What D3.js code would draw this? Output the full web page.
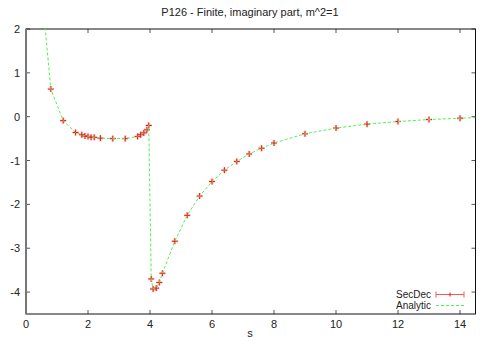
<!DOCTYPE html>
<html>
<head>
<meta charset="utf-8">
<script src="https://cdn.jsdelivr.net/npm/d3@7"></script>
<style>
  body { margin: 0; background: #fff; }
  text { font-family: "Liberation Sans", Arial, sans-serif; fill: #222; }
</style>
</head>
<body>
<svg id="chart" width="493" height="345"></svg>
<script>
// SecDec data points (s, imaginary part)
const secS = [0.8, 1.2, 1.6, 1.8, 1.9, 2.0, 2.1, 2.2, 2.4, 2.8, 3.2, 3.6, 3.7, 3.8, 3.9, 3.96,
  4.04, 4.1, 4.2, 4.3, 4.4, 4.8, 5.2, 5.6, 6.0, 6.4, 6.8, 7.2, 7.6, 8, 9, 10, 11, 12, 13, 14];
const secVal = [0.63, -0.09, -0.36, -0.41, -0.44, -0.45, -0.47, -0.47, -0.49, -0.50, -0.50, -0.45, -0.41, -0.37, -0.30, -0.20,
  -3.70, -3.93, -3.91, -3.78, -3.57, -2.84, -2.25, -1.81, -1.48, -1.22, -1.02, -0.85, -0.72, -0.60, -0.39, -0.26, -0.17, -0.11, -0.065, -0.035];

// Analytic curve
const anaS = [0.5].concat(secS, [14.5]);
const anaVal = [2.94].concat(secVal, [-0.02]);

const xTicks = [0, 2, 4, 6, 8, 10, 12, 14];
const yTicks = [2, 1, 0, -1, -2, -3, -4];

const svg = d3.select('#chart');
const pLeft = 26, pRight = 475.5, pTop = 29, pBottom = 314;

const x = d3.scaleLinear().domain([0, 14.5]).range([pLeft, pRight]);
const y = d3.scaleLinear().domain([-4.5, 2]).range([pBottom, pTop]);

// title and axis label
svg.append('text').attr('x', 250).attr('y', 16).attr('text-anchor', 'middle')
  .attr('font-size', 11).text('P126 - Finite, imaginary part, m^2=1');
svg.append('text').attr('x', 250).attr('y', 337).attr('text-anchor', 'middle')
  .attr('font-size', 11).text('s');

// ticks (inward, all four sides)
const tickColor = '#555';
xTicks.forEach(t => {
  svg.append('line').attr('x1', x(t)).attr('x2', x(t)).attr('y1', pBottom).attr('y2', pBottom - 4)
    .attr('stroke', tickColor);
  svg.append('line').attr('x1', x(t)).attr('x2', x(t)).attr('y1', pTop).attr('y2', pTop + 4)
    .attr('stroke', tickColor);
  svg.append('text').attr('x', x(t)).attr('y', pBottom + 14).attr('text-anchor', 'middle')
    .attr('font-size', 11).text(t);
});
yTicks.forEach(t => {
  svg.append('line').attr('x1', pLeft).attr('x2', pLeft + 4).attr('y1', y(t)).attr('y2', y(t))
    .attr('stroke', tickColor);
  svg.append('line').attr('x1', pRight).attr('x2', pRight - 4).attr('y1', y(t)).attr('y2', y(t))
    .attr('stroke', tickColor);
  svg.append('text').attr('x', 20).attr('y', y(t) + 4).attr('text-anchor', 'end')
    .attr('font-size', 11).text(t);
});

// border
svg.append('rect').attr('x', pLeft).attr('y', pTop).attr('width', pRight - pLeft).attr('height', pBottom - pTop)
  .attr('fill', 'none').attr('stroke', '#111').attr('stroke-width', 1);
svg.append('line').attr('x1', pLeft).attr('x2', pLeft).attr('y1', pTop).attr('y2', pBottom)
  .attr('stroke', '#777').attr('stroke-width', 2);

svg.append('clipPath').attr('id', 'clip').append('rect')
  .attr('x', pLeft).attr('y', pTop).attr('width', pRight - pLeft).attr('height', pBottom - pTop);
const plot = svg.append('g').attr('clip-path', 'url(#clip)');

// SecDec points
function plus(g, cx, cy) {
  const d = `M${cx - 3},${cy}H${cx + 3}M${cx},${cy - 3}V${cy + 3}`;
  g.append('path').attr('d', d).attr('stroke', '#ff7777').attr('stroke-width', 2.5).attr('opacity', 0.35);
  g.append('path').attr('d', d).attr('stroke', '#ee1111').attr('stroke-width', 1);
}
secS.forEach((s, i) => plus(plot, x(s), y(secVal[i])));

// Analytic line
const line = d3.line().x((d, i) => x(anaS[i])).y(d => y(d));
plot.append('path').datum(anaVal).attr('d', line)
  .attr('fill', 'none').attr('stroke', '#55ee55').attr('stroke-width', 1)
  .attr('stroke-dasharray', '3,2');

// legend
const lx1 = 436, lx2 = 464;
svg.append('text').attr('x', 431).attr('y', 297.5).attr('text-anchor', 'end').attr('font-size', 10).text('SecDec');
svg.append('text').attr('x', 431).attr('y', 309).attr('text-anchor', 'end').attr('font-size', 10).text('Analytic');
svg.append('line').attr('x1', lx1).attr('x2', lx2).attr('y1', 294.5).attr('y2', 294.5)
  .attr('stroke', '#ff5555').attr('stroke-width', 1);
[lx1, lx2].forEach(v => svg.append('line').attr('x1', v).attr('x2', v).attr('y1', 291.5).attr('y2', 297.5)
  .attr('stroke', '#ff5555'));
svg.append('line').attr('x1', 450).attr('x2', 450).attr('y1', 292.5).attr('y2', 296.5).attr('stroke', '#dd1111');
svg.append('line').attr('x1', lx1).attr('x2', lx2).attr('y1', 305.5).attr('y2', 305.5)
  .attr('stroke', '#55ee55').attr('stroke-dasharray', '3,2');
</script>
</body>
</html>
